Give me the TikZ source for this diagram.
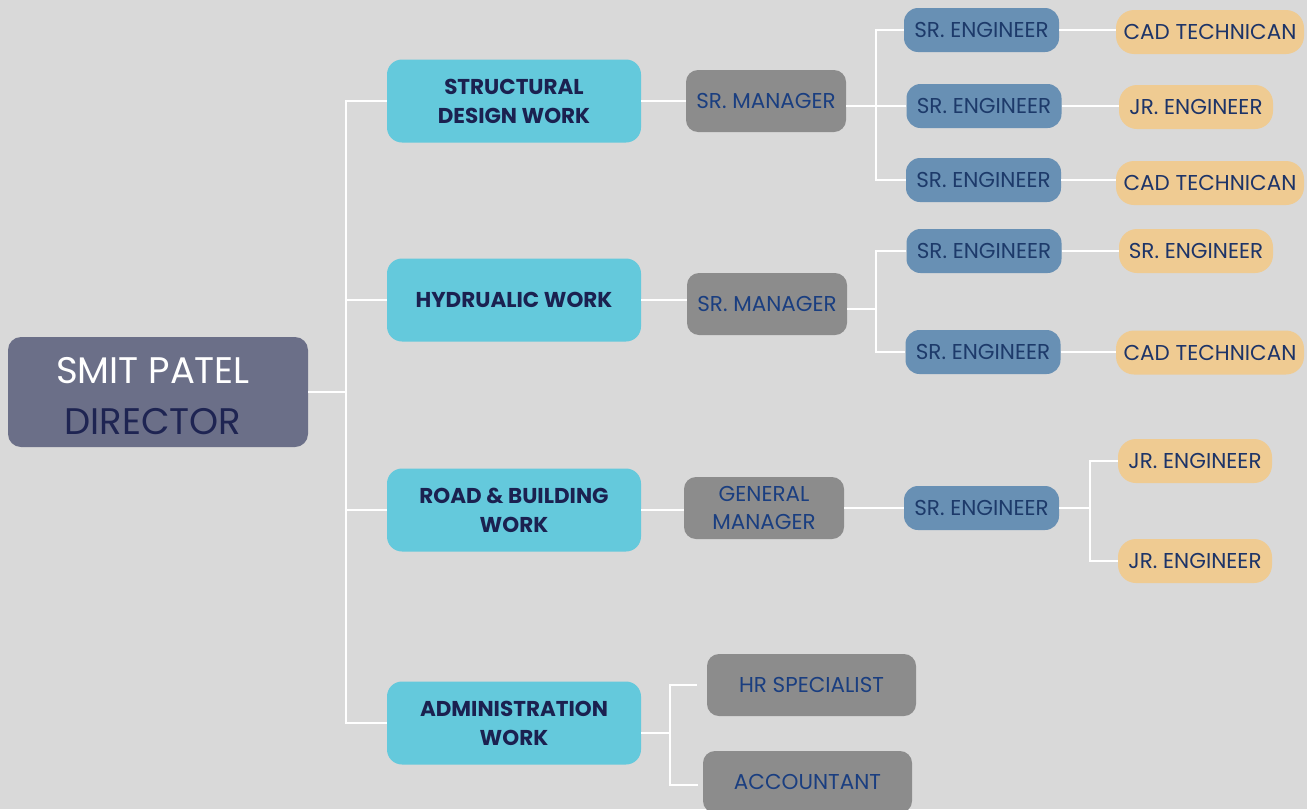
\documentclass[tikz,border=0pt]{standalone}
\usepackage{fontspec}
\setmainfont{Poppins}
\definecolor{bgc}{HTML}{D9D9D9}
\definecolor{dirfill}{HTML}{6B6F88}
\definecolor{dirtitle}{HTML}{1E2452}
\definecolor{cyanfill}{HTML}{64C9DC}
\definecolor{cyantext}{HTML}{1B2150}
\definecolor{grayfill}{HTML}{8C8C8C}
\definecolor{graytext}{HTML}{1A3E80}
\definecolor{bluefill}{HTML}{6890B4}
\definecolor{bluetext}{HTML}{1D3A6A}
\definecolor{orangefill}{HTML}{EFCB92}
\definecolor{orangetext}{HTML}{1D3468}
\begin{document}
\begin{tikzpicture}[x=1pt,y=-1pt,
  box/.style={rounded corners=#1, inner sep=0pt, align=center, font=\fontsize{21.5}{28}\selectfont},
  box/.default=14pt,
  dirbox/.style={box=13pt, fill=dirfill, minimum width=300pt, minimum height=110pt},
  dirtext/.style={inner sep=0pt, align=center, font=\fontsize{37}{51}\selectfont},
  deptbox/.style={box=15pt, fill=cyanfill, text=cyantext, minimum width=254pt, minimum height=83pt, font=\fontsize{21.5}{29}\selectfont\bfseries},
  mgrbox/.style={box=12pt, fill=grayfill, text=graytext, minimum width=160pt, minimum height=62pt},
  engbox/.style={box=14pt, fill=bluefill, text=bluetext, minimum width=155pt, minimum height=44pt},
  subbox/.style={box=18pt, fill=orangefill, text=orangetext, minimum width=154pt, minimum height=44pt},
  wire/.style={draw=white, line width=2pt}
]
\fill[bgc] (0,0) rectangle (1307,809);
\useasboundingbox (0,0) rectangle (1307,809);

% director
\node[dirbox] (dir) at (158,392) {};
\node[dirtext] (dirt) at (153,396) {{\color{white}SMIT PATEL}\\{\color{dirtitle}DIRECTOR}};

% departments
\node[deptbox] (s1) at (514,101) {STRUCTURAL\\DESIGN WORK};
\node[deptbox] (s2) at (514,300) {HYDRUALIC WORK};
\node[deptbox] (s3) at (514,510) {ROAD \& BUILDING\\WORK};
\node[deptbox] (s4) at (514,723) {ADMINISTRATION\\WORK};

% managers
\node[mgrbox] (m1) at (766,101) {SR. MANAGER};
\node[mgrbox] (m2) at (767,304) {SR. MANAGER};
\node[mgrbox] (m3) at (764,508) {GENERAL\\MANAGER};
\node[mgrbox, minimum width=209pt] (hr) at (811.5,685) {HR SPECIALIST};
\node[mgrbox, minimum width=209pt] (acc) at (807.5,782) {ACCOUNTANT};

% engineers
\node[engbox] (e1) at (981.5,30) {SR. ENGINEER};
\node[engbox] (e2) at (984,106) {SR. ENGINEER};
\node[engbox] (e3) at (983.5,180) {SR. ENGINEER};
\node[engbox] (e4) at (984,251) {SR. ENGINEER};
\node[engbox] (e5) at (983,352) {SR. ENGINEER};
\node[engbox] (e6) at (981.5,508) {SR. ENGINEER};

% sub staff
\node[subbox, minimum width=188pt] (o1) at (1210,32) {CAD TECHNICAN};
\node[subbox] (o2) at (1196,107) {JR. ENGINEER};
\node[subbox, minimum width=188pt] (o3) at (1210,183) {CAD TECHNICAN};
\node[subbox] (o4) at (1196,251) {SR. ENGINEER};
\node[subbox, minimum width=188pt] (o5) at (1210,352.5) {CAD TECHNICAN};
\node[subbox] (o6) at (1195,461) {JR. ENGINEER};
\node[subbox] (o7) at (1195,561) {JR. ENGINEER};

% trunk coordinates
\coordinate (tA) at (346,394);
\coordinate (tB) at (670,733);
\coordinate (tC) at (876,0);
\coordinate (tD) at (1090,0);

% director to departments
\draw[wire] (dir.east) -- (dir.east -| tA);
\draw[wire] (s1.west) -- (s1.west -| tA) -- (s4.west -| tA) -- (s4.west);
\draw[wire] (s2.west) -- (s2.west -| tA);
\draw[wire] (s3.west) -- (s3.west -| tA);

% departments to managers
\draw[wire] (s1.east) -- (s1.east -| m1.west);
\draw[wire] (s2.east) -- (s2.east -| m2.west);
\draw[wire] (s3.east) -- (s3.east -| m3.west);
\draw[wire] ([yshift=-10pt]s4.east) -- (tB);
\draw[wire] ([xshift=-10pt]hr.west) -- (hr.west -| tB) -- ([yshift=-3pt]acc.west -| tB) -- ([xshift=-5pt,yshift=-3pt]acc.west);

% structural managers to engineers
\draw[wire] (m1.east |- e2.west) -- (e2.west -| tC);
\draw[wire] (e1.west) -- (e1.west -| tC) -- (e3.west -| tC) -- (e3.west);
\draw[wire] (e2.west) -- (e2.west -| tC);
\draw[wire] (e1.east) -- (e1.east -| o1.west);
\draw[wire] (e2.east) -- (e2.east -| o2.west);
\draw[wire] (e3.east) -- (e3.east -| o3.west);

% hydraulic
\draw[wire] ([yshift=-5pt]m2.east) -- ([yshift=-5pt]m2.east -| tC);
\draw[wire] (e4.west) -- (e4.west -| tC) -- (e5.west -| tC) -- (e5.west);
\draw[wire] (e4.east) -- (e4.east -| o4.west);
\draw[wire] (e5.east) -- (e5.east -| o5.west);

% road & building
\draw[wire] (m3.east) -- (e6.west);
\draw[wire] (e6.east) -- (e6.east -| tD);
\draw[wire] (o6.west) -- (o6.west -| tD) -- (o7.west -| tD) -- (o7.west);
\end{tikzpicture}
\end{document}
